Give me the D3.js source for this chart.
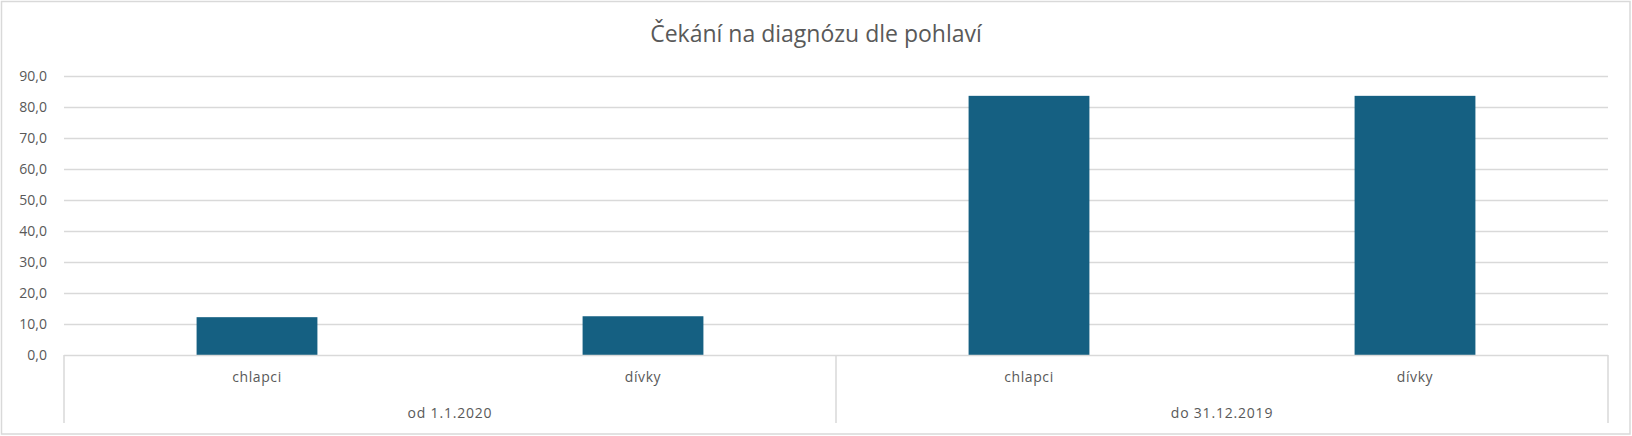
<!DOCTYPE html>
<html><head><meta charset="utf-8">
<script src="https://cdn.jsdelivr.net/npm/d3@7"></script>
<style>body{margin:0;background:#fff}svg{display:block}text{font-family:"Open Sans",sans-serif;fill:#595959}</style>
</head><body><div id="chart"></div>
<script>
const title = "Čekání na diagnózu dle pohlaví";
const groups = ["od 1.1.2020", "do 31.12.2019"];
const categories = ["chlapci", "dívky", "chlapci", "dívky"];
const categoryGroup = [0, 0, 1, 1];
const values = [12.2, 12.5, 83.6, 83.6];
const yTicks = [0, 10, 20, 30, 40, 50, 60, 70, 80, 90];

const W = 1632, H = 436;
const mLeft = 64, mRight = 1608, mTop = 76, mBottom = 355, axisBottom = 423;
const svg = d3.select("#chart").append("svg").attr("width", W).attr("height", H);

svg.append("rect").attr("x", 1.5).attr("y", 1.5).attr("width", W - 3.5).attr("height", H - 3.5)
  .attr("fill", "#fff").attr("stroke", "#d9d9d9").attr("stroke-width", 1.5);

const y = d3.scaleLinear().domain([0, 90]).range([mBottom, mTop]);
const x = d3.scaleBand().domain(d3.range(categories.length)).range([mLeft, mRight]).padding(0);
const xg = d3.scaleBand().domain(d3.range(groups.length)).range([mLeft, mRight]).padding(0);

// gridlines
svg.append("g").selectAll("line").data(yTicks.filter(d => d > 0)).join("line")
  .attr("x1", mLeft).attr("x2", mRight)
  .attr("y1", d => Math.round(y(d)) + 0.5).attr("y2", d => Math.round(y(d)) + 0.5)
  .attr("stroke", "#d9d9d9").attr("stroke-width", 1.5);

// y labels
svg.append("g").selectAll("text").data(yTicks).join("text")
  .attr("x", 47).attr("y", d => y(d)).attr("dy", "0.35em")
  .attr("text-anchor", "end").attr("font-size", 14)
  .text(d => d3.format(".1f")(d).replace(".", ","));

// bars
const barFrac = 0.313;
svg.append("g").selectAll("rect").data(values).join("rect")
  .attr("x", (d, i) => x(i) + x.bandwidth() * (1 - barFrac) / 2)
  .attr("width", x.bandwidth() * barFrac)
  .attr("y", d => y(d)).attr("height", d => y(0) - y(d))
  .attr("fill", "#156082");

// axis line
svg.append("line").attr("x1", mLeft).attr("x2", mRight).attr("y1", mBottom + 0.5).attr("y2", mBottom + 0.5)
  .attr("stroke", "#d9d9d9").attr("stroke-width", 1.5);

// group separators
const seps = [mLeft, ...groups.map((g, i) => xg(i) + xg.bandwidth())];
svg.append("g").selectAll("line").data(seps).join("line")
  .attr("x1", d => d).attr("x2", d => d).attr("y1", mBottom).attr("y2", axisBottom)
  .attr("stroke", "#d9d9d9").attr("stroke-width", 1.5);

// category labels
svg.append("g").selectAll("text").data(categories).join("text")
  .attr("x", (d, i) => x(i) + x.bandwidth() / 2).attr("y", 381.5)
  .attr("text-anchor", "middle").attr("font-size", 14).attr("letter-spacing", "0.6px").text(d => d);

// group labels
svg.append("g").selectAll("text").data(groups).join("text")
  .attr("x", (d, i) => xg(i) + xg.bandwidth() / 2).attr("y", 417.5)
  .attr("text-anchor", "middle").attr("font-size", 14).attr("letter-spacing", "0.8px").text(d => d);

// title
svg.append("text").attr("x", W / 2).attr("y", 41.5).attr("text-anchor", "middle")
  .attr("font-size", 23).text(title);
</script></body></html>
